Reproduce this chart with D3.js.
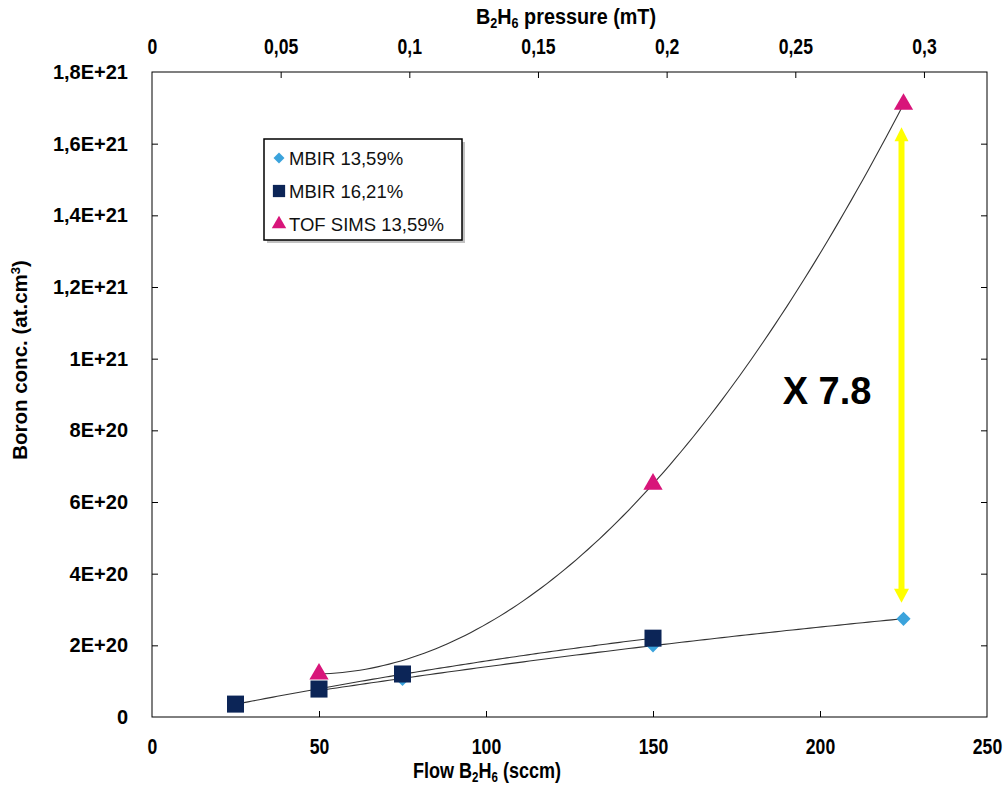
<!DOCTYPE html>
<html><head><meta charset="utf-8">
<script src="https://cdn.jsdelivr.net/npm/d3@7"></script>
<style>
body{margin:0;background:#fff;}
svg{display:block;font-family:"Liberation Sans",Arial,sans-serif;}
</style></head><body>
<svg id="c" width="1003" height="789"></svg>
<script>
// ---- data ----
const mbir1359X = [50, 75, 150, 225];
const mbir1359Y = [0.75e20, 1.06e20, 2.0e20, 2.74e20];
const mbir1621X = [25, 50, 75, 150];
const mbir1621Y = [0.36e20, 0.78e20, 1.2e20, 2.2e20];
const tofX = [50, 150, 225];
const tofY = [1.2e20, 6.5e20, 1.71e21];
const bottomTicks = [0, 50, 100, 150, 200, 250];
const topTicks = [0, 0.05, 0.1, 0.15, 0.2, 0.25, 0.3];
const yTicks = [0, 2e20, 4e20, 6e20, 8e20, 1e21, 1.2e21, 1.4e21, 1.6e21, 1.8e21];
const yTickLabels = ["0","2E+20","4E+20","6E+20","8E+20","1E+21","1,2E+21","1,4E+21","1,6E+21","1,8E+21"];
const seriesNames = ["MBIR 13,59%", "MBIR 16,21%", "TOF SIMS 13,59%"];
const ratioLabel = "X 7.8";

const svg = d3.select("#c");
const L = 152, R = 987, T = 72, B = 717;
const x = d3.scaleLinear().domain([0, 250]).range([L, R]);
const xTop = d3.scaleLinear().domain([0, 0.3245]).range([L, R]);
const y = d3.scaleLinear().domain([0, 1.8e21]).range([B, T]);

// frame
svg.append("rect").attr("x", L).attr("y", T).attr("width", R - L).attr("height", B - T)
  .attr("fill", "none").attr("stroke", "#000").attr("stroke-width", 1);

// axes with inward ticks
const fmtBottom = d => String(d);
const fmtTop = d => String(d).replace(".", ",");
const gB = svg.append("g").attr("transform", `translate(0,${B})`)
  .call(d3.axisBottom(x).tickValues(bottomTicks).tickFormat(fmtBottom).tickSizeInner(-6).tickSizeOuter(0).tickPadding(21));
const gT = svg.append("g").attr("transform", `translate(0,${T})`)
  .call(d3.axisTop(xTop).tickValues(topTicks).tickFormat(fmtTop).tickSizeInner(-6).tickSizeOuter(0).tickPadding(18));
const gL = svg.append("g").attr("transform", `translate(${L},0)`)
  .call(d3.axisLeft(y).tickValues(yTicks).tickFormat((d, i) => yTickLabels[i]).tickSizeInner(-6).tickSizeOuter(0).tickPadding(24));
const gR = svg.append("g").attr("transform", `translate(${R},0)`)
  .call(d3.axisRight(y).tickValues(yTicks).tickFormat("").tickSizeInner(-6).tickSizeOuter(0));
[gB, gT, gL, gR].forEach(g => {
  g.select(".domain").remove();
  g.selectAll(".tick line").attr("stroke", "#000");
});
[gB, gT].forEach(g => g.selectAll("text").attr("font-size", 22)
  .attr("font-weight", "bold").attr("fill", "#000").attr("transform", "scale(0.8,1)")
  .style("font-family", "'Liberation Sans',Arial,sans-serif"));
gL.selectAll("text").attr("font-size", 20).attr("font-weight", "bold").attr("fill", "#000")
  .style("font-family", "'Liberation Sans',Arial,sans-serif");
gB.selectAll(".tick").filter(d => d === 0 || d === 250).select("line").remove();
gT.selectAll(".tick").filter(d => d === 0).select("line").remove();
gL.selectAll(".tick").filter(d => d === 0 || d === 1.8e21).select("line").remove();
gR.selectAll(".tick").filter(d => d === 0 || d === 1.8e21).select("line").remove();

// axis titles
svg.append("text").attr("transform", "translate(487,778) scale(0.82,1)")
  .attr("text-anchor", "middle").attr("font-size", 22).attr("font-weight", "bold")
  .html('Flow B<tspan dy="4" font-size="14">2</tspan><tspan dy="-4">H</tspan><tspan dy="4" font-size="14">6</tspan><tspan dy="-4"> (sccm)</tspan>');
svg.append("text").attr("transform", "translate(566,24) scale(0.9,1)")
  .attr("text-anchor", "middle").attr("font-size", 22).attr("font-weight", "bold")
  .html('B<tspan dy="4" font-size="14">2</tspan><tspan dy="-4">H</tspan><tspan dy="4" font-size="14">6</tspan><tspan dy="-4"> pressure (mT)</tspan>');
svg.append("text").attr("transform", "translate(27,360) rotate(-90)")
  .attr("text-anchor", "middle").attr("font-size", 20.5).attr("font-weight", "bold")
  .html('Boron conc. (at.cm<tspan dy="-7" font-size="13">3</tspan><tspan dy="7">)</tspan>');

// least-squares quadratic trendline
function quadFit(xs, ys) {
  const n = xs.length;
  let S = [0,0,0,0,0], Ty = [0,0,0];
  for (let i = 0; i < n; i++) {
    const xv = xs[i], yv = ys[i];
    for (let k = 0; k < 5; k++) S[k] += Math.pow(xv, k);
    for (let k = 0; k < 3; k++) Ty[k] += yv * Math.pow(xv, k);
  }
  const M = [[S[0],S[1],S[2],Ty[0]],[S[1],S[2],S[3],Ty[1]],[S[2],S[3],S[4],Ty[2]]];
  for (let i = 0; i < 3; i++) {
    let p = i; for (let r = i+1; r < 3; r++) if (Math.abs(M[r][i]) > Math.abs(M[p][i])) p = r;
    [M[i], M[p]] = [M[p], M[i]];
    for (let r = 0; r < 3; r++) if (r !== i) {
      const f = M[r][i] / M[i][i];
      for (let c = i; c < 4; c++) M[r][c] -= f * M[i][c];
    }
  }
  const c = [M[0][3]/M[0][0], M[1][3]/M[1][1], M[2][3]/M[2][2]];
  return xv => c[0] + c[1]*xv + c[2]*xv*xv;
}
function trend(xs, ys) {
  const f = quadFit(xs, ys);
  const x0 = d3.min(xs), x1 = d3.max(xs);
  const pts = d3.range(0, 101).map(i => { const xv = x0 + (x1 - x0) * i / 100; return [xv, f(xv)]; });
  svg.append("path").attr("d", d3.line().x(d => x(d[0])).y(d => y(d[1]))(pts))
    .attr("fill", "none").attr("stroke", "#333").attr("stroke-width", 1.1);
}
trend(tofX, tofY);
trend(mbir1359X, mbir1359Y);
trend(mbir1621X, mbir1621Y);

// markers
const cDia = "#3ba3dc", cSq = "#0c2557", cTri = "#d8157a";
const sym = (type, size) => d3.symbol().type(type).size(size)();
function markers(xs, ys, type, size, color, rot) {
  svg.append("g").selectAll("path").data(xs).join("path")
    .attr("d", sym(type, size))
    .attr("transform", (d, i) => `translate(${x(d)},${y(ys[i])}) rotate(${rot})`)
    .attr("fill", color);
}
markers(mbir1359X, mbir1359Y, d3.symbolSquare, 100, cDia, 45);
markers(tofX, tofY, d3.symbolTriangle, 160, cTri, 0);
markers(mbir1621X, mbir1621Y, d3.symbolSquare, 290, cSq, 0);

// yellow double arrow between TOF and MBIR at x=225
const ax = x(225) - 2;
const yTopTip = y(tofY[2]) + 23, yBotTip = y(mbir1359Y[3]) - 16;
const ya = svg.append("g").attr("fill", "#ffff00");
ya.append("rect").attr("x", ax - 3).attr("y", yTopTip + 12).attr("width", 6).attr("height", (yBotTip - 12) - (yTopTip + 12));
ya.append("path").attr("d", `M${ax},${yTopTip} L${ax - 7},${yTopTip + 14} L${ax + 7},${yTopTip + 14} Z`);
ya.append("path").attr("d", `M${ax},${yBotTip} L${ax - 7.5},${yBotTip - 14} L${ax + 7.5},${yBotTip - 14} Z`);

svg.append("text").attr("x", 827).attr("y", 404).attr("text-anchor", "middle")
  .attr("font-size", 38).attr("font-weight", "bold").text(ratioLabel);

// legend
const lg = svg.append("g").attr("transform", "translate(264,139)");
lg.append("rect").attr("x", 3).attr("y", 3).attr("width", 198).attr("height", 101).attr("fill", "#999").attr("opacity", 0.6);
lg.append("rect").attr("width", 198).attr("height", 101).attr("fill", "#fff").attr("stroke", "#000").attr("stroke-width", 1.5);
const lgItems = [[d3.symbolSquare, 60, cDia, 45], [d3.symbolSquare, 150, cSq, 0], [d3.symbolTriangle, 90, cTri, 0]];
lgItems.forEach((it, i) => {
  const cy = 19 + i * 33;
  lg.append("path").attr("d", sym(it[0], it[1])).attr("fill", it[2])
    .attr("transform", `translate(15,${cy}) rotate(${it[3]})`);
  lg.append("text").attr("x", 25).attr("y", cy + 6.5).attr("font-size", 18.5).attr("fill", "#111").text(seriesNames[i]);
});
</script></body></html>
